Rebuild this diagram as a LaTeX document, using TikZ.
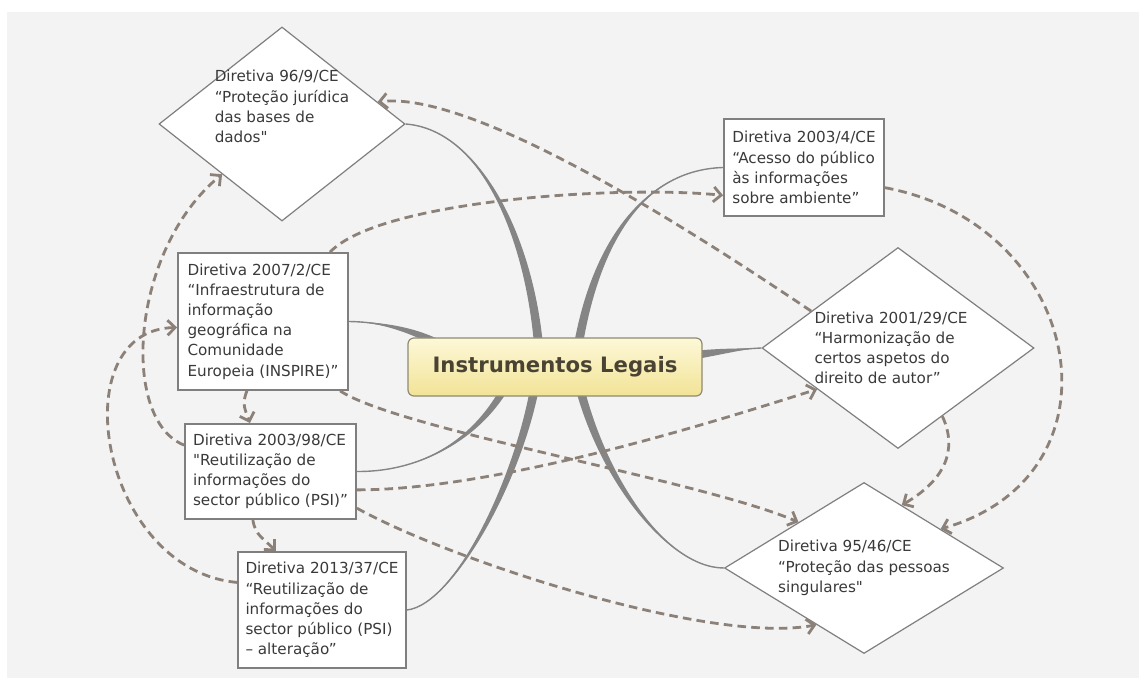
\documentclass[tikz,border=0pt]{standalone}
\usepackage{fontspec}
\setmainfont{DejaVu Sans}
\usetikzlibrary{arrows.meta,calc,shapes.geometric}

\definecolor{bggray}{HTML}{F3F3F3}
\definecolor{brgray}{HTML}{858585}
\definecolor{boxgray}{HTML}{7F7F7F}
\definecolor{dashbrown}{HTML}{8C8178}
\definecolor{topictop}{HTML}{FDF8D8}
\definecolor{topicbot}{HTML}{F2E396}
\definecolor{topicline}{HTML}{8E8A74}
\definecolor{topictext}{HTML}{4A4333}
\definecolor{inktext}{HTML}{3A3A3A}

\pgfdeclarelayer{back}
\pgfsetlayers{back,main}

% tapered mind-map branch: from, control 1, control 2, offset of hub end, half width
\newcommand{\mmbranch}[5]{%
  \fill[brgray] #1 .. controls #2 and ($#3+#5$) .. ($(legais.center)+#4+#5$)
    -- ($(legais.center)+#4-#5$) .. controls ($#3-#5$) and #2 .. #1 -- cycle;
  \draw[brgray, line width=0.7pt] #1 .. controls #2 and #3 .. ($(legais.center)+#4$);
}

\begin{document}
\begin{tikzpicture}[
  x=0.5pt, y=-0.5pt,
  every node/.style={font=\fontsize{7.6}{10.1}\selectfont, text=inktext},
  central/.style={rectangle, draw=topicline, line width=0.6pt, rounded corners=3pt, top color=topictop, bottom color=topicbot, minimum width=147pt, minimum height=29pt, font=\fontsize{10.6}{12}\selectfont\bfseries, text=topictext},
  dirbox/.style={rectangle, draw=boxgray, line width=0.9pt, fill=white, align=left, inner xsep=3pt, inner ysep=2pt},
  dirdiamond/.style={diamond, draw=boxgray, line width=0.6pt, fill=white, inner sep=0pt},
  dirlabel/.style={align=left, inner sep=0pt},
  arrowDashed/.style={-{Straight Barb[length=3.8pt, width=7.5pt]}, draw=dashbrown, line width=1.4pt, dash pattern=on 4.3pt off 2.6pt}
]
\useasboundingbox (0,0) rectangle (1139,678);

% Central topic
\node[central] (legais) at (555,367) {Instrumentos Legais};

% Directives (diamonds)
\node[dirdiamond, minimum width=123pt, minimum height=97pt,
  label={[dirlabel, yshift=8.75pt]center:{Diretiva 96/9/CE\\“Proteção jurídica\\das bases de\\dados\textquotedbl}}] (d969) at (282,124) {};
\node[dirdiamond, minimum width=136pt, minimum height=100.5pt,
  label={[dirlabel, xshift=-3.5pt]center:{Diretiva 2001/29/CE\\“Harmonização de\\certos aspetos do\\direito de autor”}}] (d2001) at (898,348) {};
\node[dirdiamond, minimum width=139.5pt, minimum height=85.5pt,
  label={[dirlabel]center:{Diretiva 95/46/CE\\“Proteção das pessoas\\singulares\textquotedbl}}] (d9546) at (864,568) {};

% Directives (boxes)
\node[dirbox, minimum width=80pt, minimum height=48.5pt] (b20034) at (804,167.5) {Diretiva 2003/4/CE\\“Acesso do público\\às informações\\sobre ambiente”};
\node[dirbox, minimum width=85pt, minimum height=68.5pt] (b20072) at (263,321.5) {Diretiva 2007/2/CE\\“Infraestrutura de\\informação\\geográfica na\\Comunidade\\Europeia (INSPIRE)”};
\node[dirbox, minimum width=85.5pt, minimum height=47.5pt] (b200398) at (270.5,471.5) {Diretiva 2003/98/CE\\\textquotedbl Reutilização de\\informações do\\sector público (PSI)”};
\node[dirbox, minimum width=84pt, minimum height=58pt] (b201337) at (322,610) {Diretiva 2013/37/CE\\“Reutilização de\\informações do\\sector público (PSI)\\– alteração”};

% Background and branches
\begin{pgfonlayer}{back}
  \fill[bggray] (7,12) rectangle (1139,678);
  \mmbranch{(d969.east)}{(485,130)}{(535,250)}{(-15,0)}{(4.5,0)}
  \mmbranch{(b20034.west)}{(640,170)}{(590,250)}{(20,0)}{(4.5,0)}
  \mmbranch{(b20072.east)}{(385,322)}{(420,332)}{(-105,-17)}{(0,4.5)}
  \mmbranch{(d2001.west)}{(740,349)}{(715,352)}{(105,-7)}{(0,5)}
  \mmbranch{(b200398.east)}{(430,472)}{(490,430)}{(-40,0)}{(4.5,0)}
  \mmbranch{(b201337.east)}{(455,605)}{(525,470)}{(-17,0)}{(4.5,0)}
  \mmbranch{(d9546.west)}{(665,568)}{(595,470)}{(20,0)}{(4.5,0)}
\end{pgfonlayer}

% Relations between directives (dashed)
\draw[arrowDashed] (d2001.157) .. controls (720,250) and (480,90) .. (d969.13);
\draw[arrowDashed] (b20072.46) .. controls (380,200) and (620,185) .. (b20034.199);
\draw[arrowDashed] (b20034.346) .. controls (1085,225) and (1130,475) .. (d9546.27);
\draw[arrowDashed] (d2001.303) .. controls (958,450) and (945,480) .. (d9546.59);
\draw[arrowDashed] (b20072.318) .. controls (400,430) and (700,480) .. (d9546.145);
\draw[arrowDashed] (b200398.348) .. controls (500,490) and (720,420) .. (d2001.207);
\draw[arrowDashed] (b200398.337) .. controls (450,560) and (710,645) .. (d9546.230);
\draw[arrowDashed] (b20072.257) .. controls +(-6,14) and +(-4,-12) .. (b200398.113);
\draw[arrowDashed] (b200398.250) .. controls +(2,15) and +(-12,-12) .. (b201337.128);
\draw[arrowDashed] (b201337.162) .. controls (100,570) and (60,330) .. (b20072.184);
\draw[arrowDashed] (b200398.163) .. controls (120,420) and (130,250) .. (d969.220);

\end{tikzpicture}
\end{document}
